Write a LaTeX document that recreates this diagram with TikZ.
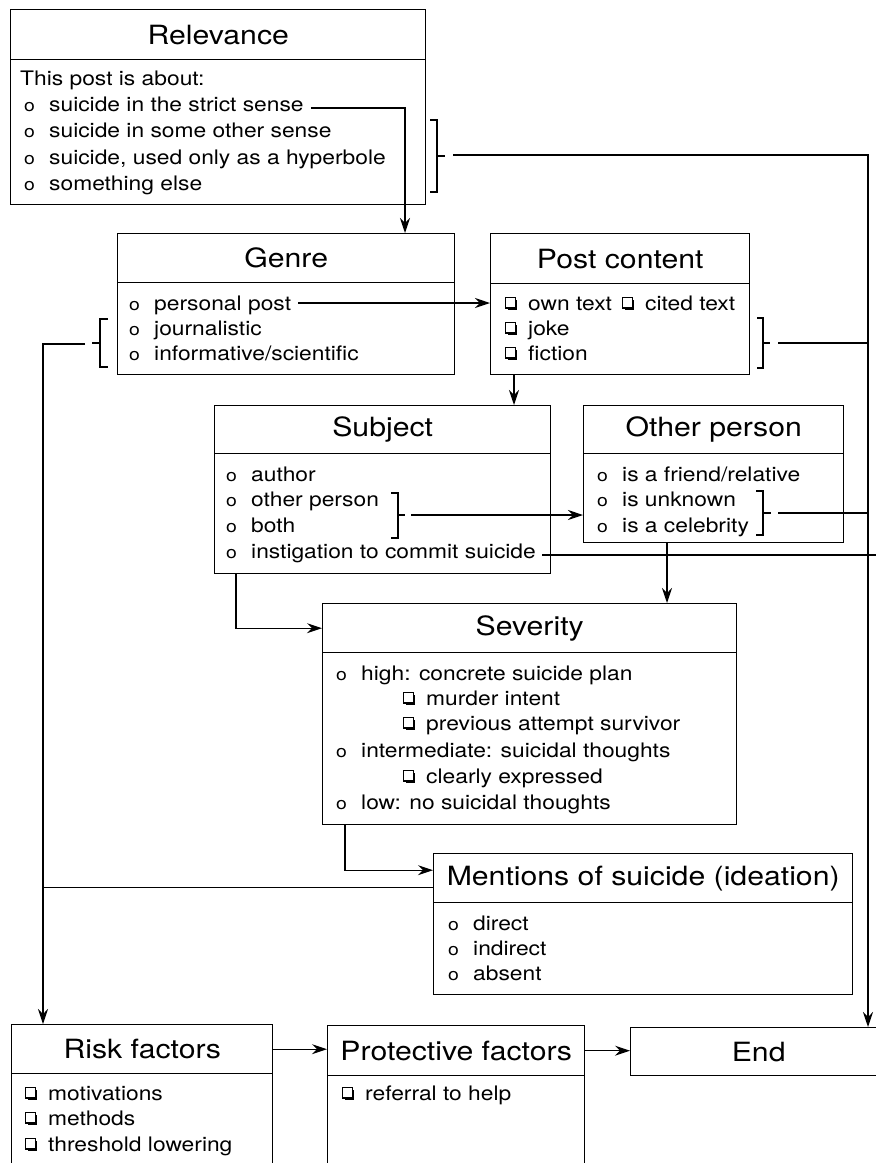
\documentclass[tikz,border=0pt]{standalone}
\usepackage{fontspec}
\setmainfont[FakeStretch=1.14]{TeX Gyre Heros}
\usetikzlibrary{arrows.meta}
\newcommand\bul{\makebox[25pt][l]{\fontsize{17}{17}\selectfont o}}
\newcommand\cbglyph{\tikz[baseline=0pt]{%
  \fill[black] (2.4pt,-0.2pt) rectangle (12.2pt,2pt);
  \fill[black] (10pt,-0.2pt) rectangle (12.2pt,10pt);
  \draw[line width=1.1pt,black] (0.55pt,2pt) rectangle (10pt,12.6pt);}}
\newcommand\cbx{\makebox[23pt][l]{\cbglyph}}
\newcommand\bodyf{\fontsize{20}{25}\selectfont}
\newcommand\titf{\fontsize{26.5}{30}\selectfont}
\begin{document}
\begin{tikzpicture}[x=1pt,y=-1pt,
 boxx/.style={draw, line width=1.4pt, rectangle, anchor=north west, inner sep=0pt},
 hdr/.style={boxx, font=\titf},
 ln/.style={anchor=base west, inner sep=0pt, font=\bodyf},
 conn/.style={line width=1.2pt},
 arr/.style={conn, -{Stealth[length=15pt,width=10pt,inset=5pt]}},
 brk/.style={line width=1.2pt}]
\useasboundingbox (0,0) rectangle (876,1163);
\clip (0,0) rectangle (876,1163);
\fill[white] (0,0) rectangle (876,1163);

% helper coordinates
\coordinate (cR) at (868,0);
\coordinate (cL) at (43,0);
\coordinate (cE) at (880,0);
\coordinate (c405) at (405,0);
\coordinate (c514) at (514,0);
\coordinate (c236) at (236,0);
\coordinate (c667) at (667,0);
\coordinate (c345) at (345,0);

% boxes
\node[boxx, minimum width=415pt, minimum height=145pt] (relB) at (10,59) {};
\node[hdr, minimum width=415pt, minimum height=50pt] (relT) at (10,9) {Relevance};
\node[boxx, minimum width=337pt, minimum height=92pt] (genB) at (117,282) {};
\node[hdr, minimum width=337pt, minimum height=49pt] (genT) at (117,233) {Genre};
\node[boxx, minimum width=259pt, minimum height=91pt] (pcB) at (490,283) {};
\node[hdr, minimum width=259pt, minimum height=50pt] (pcT) at (490,233) {Post content};
\node[boxx, minimum width=336pt, minimum height=120pt] (subB) at (214,453) {};
\node[hdr, minimum width=336pt, minimum height=48pt] (subT) at (214,405) {Subject};
\node[boxx, minimum width=260pt, minimum height=89pt] (othB) at (583,453) {};
\node[hdr, minimum width=260pt, minimum height=48pt] (othT) at (583,405) {Other person};
\node[boxx, minimum width=414pt, minimum height=172pt] (sevB) at (322,652) {};
\node[hdr, minimum width=414pt, minimum height=49pt] (sevT) at (322,603) {Severity};
\node[boxx, minimum width=419pt, minimum height=92pt] (menB) at (433,902) {};
\node[hdr, minimum width=419pt, minimum height=49pt] (menT) at (433,853) {Mentions of suicide (ideation)};
\node[boxx, minimum width=261pt, minimum height=130pt] (riskB) at (11,1073) {};
\node[hdr, minimum width=261pt, minimum height=49pt] (riskT) at (11,1024) {Risk factors};
\node[boxx, minimum width=257pt, minimum height=130pt] (protB) at (327,1075) {};
\node[hdr, minimum width=257pt, minimum height=50pt] (protT) at (327,1025) {Protective factors};
\node[hdr, minimum width=256pt, minimum height=48pt] (endT) at (630,1027) {End};

% texts
\node[ln] (r0) at (20,85) {This post is about:};
\node[ln] (r1) at (24,111) {\bul suicide in the strict sense};
\node[ln] (r2) at (24,137.5) {\bul suicide in some other sense};
\node[ln] (r3) at (24,164) {\bul suicide, used only as a hyperbole};
\node[ln] (r4) at (24,190.5) {\bul something else};

\node[ln] (g1) at (129,310) {\bul personal post};
\node[ln] (g2) at (129,335) {\bul journalistic};
\node[ln] (g3) at (129,360) {\bul informative/scientific};

\node[ln] (p1) at (505,310) {\cbx own text};
\node[ln] (p1b) at (622,310) {\cbx cited text};
\node[ln] (p2) at (505,335) {\cbx joke};
\node[ln] (p3) at (505,360) {\cbx fiction};

\node[ln] (s1) at (226,481) {\bul author};
\node[ln] (s2) at (226,506) {\bul other person};
\node[ln] (s3) at (226,532) {\bul both};
\node[ln] (s4) at (226,558) {\bul instigation to commit suicide};

\node[ln] (o1) at (597,481) {\bul is a friend/relative};
\node[ln] (o2) at (597,506) {\bul is unknown};
\node[ln] (o3) at (597,532) {\bul is a celebrity};

\node[ln] (v1) at (336,680) {\bul high: concrete suicide plan};
\node[ln] (v2) at (403,705) {\cbx murder intent};
\node[ln] (v3) at (403,730) {\cbx previous attempt survivor};
\node[ln] (v4) at (336,757) {\bul intermediate: suicidal thoughts};
\node[ln] (v5) at (403,783) {\cbx clearly expressed};
\node[ln] (v6) at (336,809) {\bul low: no suicidal thoughts};

\node[ln] (m1) at (448,930) {\bul direct};
\node[ln] (m2) at (448,955) {\bul indirect};
\node[ln] (m3) at (448,980) {\bul absent};

\node[ln] (k1) at (25,1100) {\cbx motivations};
\node[ln] (k2) at (25,1125) {\cbx methods};
\node[ln] (k3) at (25,1151) {\cbx threshold lowering};

\node[ln] (f1) at (342,1100) {\cbx referral to help};

% brackets
\draw[brk] (430,120) -- (437,120) -- (437,192) -- (430,192);
\draw[brk] (437,156) -- (445,156);
\draw[brk] (108,319) -- (100,319) -- (100,367) -- (108,367);
\draw[brk] (100,343) -- (92,343);
\draw[brk] (757,318) -- (763,318) -- (763,368) -- (757,368);
\draw[brk] (763,343) -- (770,343);
\draw[brk] (391,493) -- (398,493) -- (398,538) -- (391,538);
\draw[brk] (398,515) -- (405,515);
\draw[brk] (756,491) -- (763,491) -- (763,535) -- (756,535);
\draw[brk] (763,513) -- (771,513);

% connectors
\coordinate (r1e) at ([xshift=7pt,yshift=3pt]r1.base east);
\draw[arr] (r1e) -| (genT.north -| c405);
\coordinate (rb) at (453,155);
\draw[arr] (rb) -| (endT.north -| cR);
\coordinate (g1e) at ([xshift=7pt,yshift=7pt]g1.base east);
\draw[arr] (g1e) -- (g1e -| pcB.west);
\coordinate (gb) at (85,344);
\draw[arr] (gb) -| (riskT.north -| cL);
\coordinate (pb) at (778,343);
\draw[conn] (pb) -- (pb -| cR);
\draw[arr] (pcB.south -| c514) -- (subT.north -| c514);
\coordinate (sb) at (411,515);
\draw[arr] (sb) -- (sb -| othB.west);
\coordinate (s4e) at ([xshift=6pt,yshift=3pt]s4.base east);
\draw[conn] (s4e) -- (s4e -| cE);
\coordinate (ob) at (778,513);
\draw[conn] (ob) -- (ob -| cR);
\draw[arr] (othB.south -| c667) -- (sevT.north -| c667);
\draw[arr] (subB.south -| c236) |- (sevT.west);
\coordinate (mw) at ([yshift=8pt]menT.west);
\draw[arr] (sevB.south -| c345) |- (mw);
\coordinate (ml) at ([yshift=-9.5pt]menT.west);
\draw[conn] (ml) -- (ml -| cL);
\draw[arr] (riskT.east) -- (riskT.east -| protT.west);
\draw[arr] (protT.east) -- (protT.east -| endT.west);
\end{tikzpicture}
\end{document}
